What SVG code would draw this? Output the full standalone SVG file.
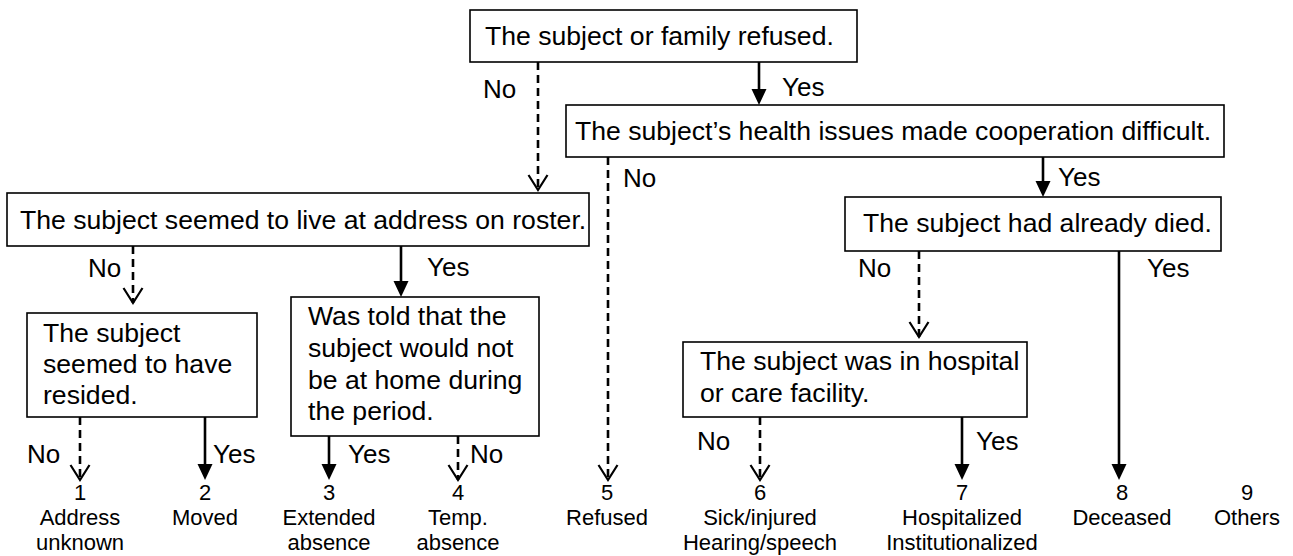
<svg xmlns="http://www.w3.org/2000/svg" width="1293" height="556" viewBox="0 0 1293 556">
<style>
  .box { fill: #ffffff; stroke: #000000; stroke-width: 1.6; }
  .t { font-family: "Liberation Sans", Arial, sans-serif; font-size: 26.6px; fill: #000000; }
  .lbl { font-family: "Liberation Sans", Arial, sans-serif; font-size: 26px; fill: #000000; }
  .out { font-family: "Liberation Sans", Arial, sans-serif; font-size: 22px; fill: #000000; text-anchor: middle; }
  .yes { stroke: #000000; stroke-width: 2.6; fill: none; marker-end: url(#filled); }
  .no { stroke: #000000; stroke-width: 2.6; fill: none; stroke-dasharray: 8 5; marker-end: url(#open); }
</style>
<defs>
  <marker id="filled" markerUnits="userSpaceOnUse" viewBox="0 -10 18 20" markerWidth="18" markerHeight="20" refX="12" refY="0" orient="auto">
    <path d="M0,-7.5 L16,0 L0,7.5 Z" fill="#000000"/>
  </marker>
  <marker id="open" markerUnits="userSpaceOnUse" viewBox="0 -11 19 22" markerWidth="19" markerHeight="22" refX="16" refY="0" orient="auto">
    <path d="M1,-9.5 L16,0 L1,9.5" fill="none" stroke="#000000" stroke-width="2.2"/>
  </marker>
</defs>

<g id="connectors">
  <line class="no" x1="538" y1="62" x2="538" y2="190"/>
  <line class="yes" x1="759" y1="62" x2="759" y2="101"/>
  <line class="no" x1="608" y1="157" x2="608" y2="480"/>
  <line class="yes" x1="1043" y1="157" x2="1043" y2="193"/>
  <line class="no" x1="133" y1="246" x2="133" y2="303"/>
  <line class="yes" x1="401" y1="246" x2="401" y2="293"/>
  <line class="no" x1="80" y1="417" x2="80" y2="480"/>
  <line class="yes" x1="205" y1="417" x2="205" y2="476"/>
  <line class="yes" x1="329" y1="436" x2="329" y2="476"/>
  <line class="no" x1="458" y1="436" x2="458" y2="480"/>
  <line class="no" x1="919" y1="251" x2="919" y2="337"/>
  <line class="yes" x1="1119" y1="251" x2="1119" y2="476"/>
  <line class="no" x1="760" y1="417" x2="760" y2="480"/>
  <line class="yes" x1="962" y1="417" x2="962" y2="476"/>
  <text class="lbl" x="483" y="98">No</text>
  <text class="lbl" x="782" y="96">Yes</text>
  <text class="lbl" x="623" y="187">No</text>
  <text class="lbl" x="1058" y="186">Yes</text>
  <text class="lbl" x="88" y="277">No</text>
  <text class="lbl" x="427" y="276">Yes</text>
  <text class="lbl" x="858" y="277">No</text>
  <text class="lbl" x="1147" y="277">Yes</text>
  <text class="lbl" x="27" y="463">No</text>
  <text class="lbl" x="213" y="463">Yes</text>
  <text class="lbl" x="348" y="463">Yes</text>
  <text class="lbl" x="470" y="463">No</text>
  <text class="lbl" x="697" y="450">No</text>
  <text class="lbl" x="976" y="450">Yes</text>
</g>

<g id="n-refused">
  <rect class="box" x="470" y="10" width="387" height="52"/>
  <text class="t" x="485" y="45">The subject or family refused.</text>
</g>
<g id="n-health">
  <rect class="box" x="566" y="105" width="658" height="52"/>
  <text class="t" x="575" y="140">The subject’s health issues made cooperation difficult.</text>
</g>
<g id="n-live">
  <rect class="box" x="7" y="193" width="582" height="53"/>
  <text class="t" x="20" y="229">The subject seemed to live at address on roster.</text>
</g>
<g id="n-resided">
  <rect class="box" x="27" y="313" width="230" height="104"/>
  <text class="t" x="43" y="342">The subject</text>
  <text class="t" x="43" y="373">seemed to have</text>
  <text class="t" x="43" y="404">resided.</text>
</g>
<g id="n-told">
  <rect class="box" x="291" y="297" width="248" height="139"/>
  <text class="t" x="308" y="325">Was told that the</text>
  <text class="t" x="308" y="357">subject would not</text>
  <text class="t" x="308" y="389">be at home during</text>
  <text class="t" x="308" y="420">the period.</text>
</g>
<g id="n-died">
  <rect class="box" x="845" y="197" width="376" height="54"/>
  <text class="t" x="863" y="232">The subject had already died.</text>
</g>
<g id="n-hospital">
  <rect class="box" x="683" y="342" width="344" height="75"/>
  <text class="t" x="700" y="370">The subject was in hospital</text>
  <text class="t" x="700" y="402">or care facility.</text>
</g>

<g id="o1"><text class="out" x="80" y="500">1</text><text class="out" x="80" y="525">Address</text><text class="out" x="80" y="550">unknown</text></g>
<g id="o2"><text class="out" x="205" y="500">2</text><text class="out" x="205" y="525">Moved</text></g>
<g id="o3"><text class="out" x="329" y="500">3</text><text class="out" x="329" y="525">Extended</text><text class="out" x="329" y="550">absence</text></g>
<g id="o4"><text class="out" x="458" y="500">4</text><text class="out" x="458" y="525">Temp.</text><text class="out" x="458" y="550">absence</text></g>
<g id="o5"><text class="out" x="607" y="500">5</text><text class="out" x="607" y="525">Refused</text></g>
<g id="o6"><text class="out" x="760" y="500">6</text><text class="out" x="760" y="525">Sick/injured</text><text class="out" x="760" y="550">Hearing/speech</text></g>
<g id="o7"><text class="out" x="962" y="500">7</text><text class="out" x="962" y="525">Hospitalized</text><text class="out" x="962" y="550">Institutionalized</text></g>
<g id="o8"><text class="out" x="1122" y="500">8</text><text class="out" x="1122" y="525">Deceased</text></g>
<g id="o9"><text class="out" x="1247" y="500">9</text><text class="out" x="1247" y="525">Others</text></g>
</svg>
